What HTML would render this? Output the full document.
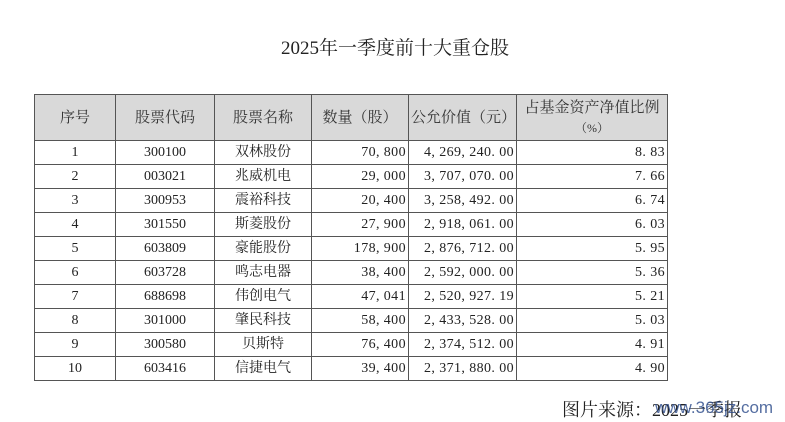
<!DOCTYPE html>
<html><head><meta charset="utf-8"><style>
body{margin:0;width:785px;height:422px;background:#fff;position:relative;overflow:hidden;font-family:"Liberation Serif","Noto Serif CJK SC",serif;color:#222}
.title{position:absolute;left:0;width:790px;top:33px;text-align:center;font-size:19px}
table{position:absolute;left:34px;top:94px;border-collapse:collapse;font-size:14px;table-layout:fixed;width:633px}
td,th{border:1px solid #555;padding:0 2px;height:23px;line-height:23px;overflow:hidden;white-space:nowrap}
th{background:#d9d9d9;font-weight:normal;height:45px;line-height:20px;font-size:15px;color:#333}
td.c{text-align:center}td.r{text-align:right;letter-spacing:0.4px}
.src{position:absolute;left:562px;top:396px;font-size:18px}
.wm{position:absolute;left:655px;top:398px;font-size:17px;color:#2b4a8a;opacity:.8;font-family:"Liberation Sans",sans-serif}
</style></head><body>
<div class="title">2025年一季度前十大重仓股</div>
<table>
<colgroup><col style="width:81px"><col style="width:99px"><col style="width:97px"><col style="width:97px"><col style="width:108px"><col style="width:151px"></colgroup>
<tr><th>序号</th><th>股票代码</th><th>股票名称</th><th>数量（股）</th><th>公允价值（元）</th><th>占基金资产净值比例<br><span style="font-size:12px">（%）</span></th></tr>
<tr><td class="c">1</td><td class="c">300100</td><td class="c">双林股份</td><td class="r">70, 800</td><td class="r">4, 269, 240. 00</td><td class="r">8. 83</td></tr>
<tr><td class="c">2</td><td class="c">003021</td><td class="c">兆威机电</td><td class="r">29, 000</td><td class="r">3, 707, 070. 00</td><td class="r">7. 66</td></tr>
<tr><td class="c">3</td><td class="c">300953</td><td class="c">震裕科技</td><td class="r">20, 400</td><td class="r">3, 258, 492. 00</td><td class="r">6. 74</td></tr>
<tr><td class="c">4</td><td class="c">301550</td><td class="c">斯菱股份</td><td class="r">27, 900</td><td class="r">2, 918, 061. 00</td><td class="r">6. 03</td></tr>
<tr><td class="c">5</td><td class="c">603809</td><td class="c">豪能股份</td><td class="r">178, 900</td><td class="r">2, 876, 712. 00</td><td class="r">5. 95</td></tr>
<tr><td class="c">6</td><td class="c">603728</td><td class="c">鸣志电器</td><td class="r">38, 400</td><td class="r">2, 592, 000. 00</td><td class="r">5. 36</td></tr>
<tr><td class="c">7</td><td class="c">688698</td><td class="c">伟创电气</td><td class="r">47, 041</td><td class="r">2, 520, 927. 19</td><td class="r">5. 21</td></tr>
<tr><td class="c">8</td><td class="c">301000</td><td class="c">肇民科技</td><td class="r">58, 400</td><td class="r">2, 433, 528. 00</td><td class="r">5. 03</td></tr>
<tr><td class="c">9</td><td class="c">300580</td><td class="c">贝斯特</td><td class="r">76, 400</td><td class="r">2, 374, 512. 00</td><td class="r">4. 91</td></tr>
<tr><td class="c">10</td><td class="c">603416</td><td class="c">信捷电气</td><td class="r">39, 400</td><td class="r">2, 371, 880. 00</td><td class="r">4. 90</td></tr>
</table>
<div class="src">图片来源：2025一季报</div>
<div class="wm">www.365jz.com</div>
</body></html>
